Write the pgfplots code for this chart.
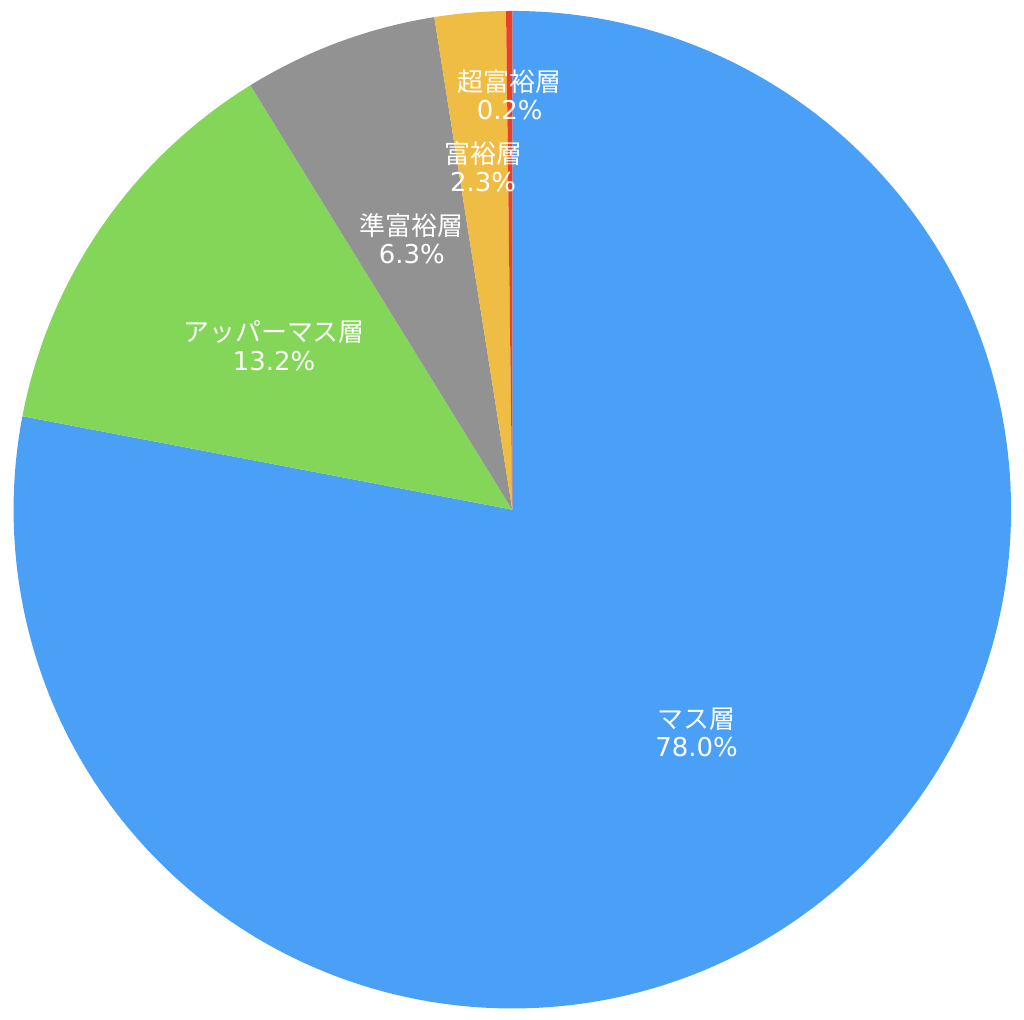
\documentclass[border=0pt]{standalone}
\usepackage{pgfplots}
\usepackage{pgfplotstable}
\usepackage{fontspec}
\pgfplotsset{compat=1.18}
\newfontfamily\cjk{Noto Sans CJK JP}
\newfontfamily\num{DejaVu Sans}

\definecolor{cblue}{HTML}{4A9FF6}
\definecolor{cgreen}{HTML}{83D657}
\definecolor{cgray}{HTML}{929292}
\definecolor{cyellow}{HTML}{EFBD43}
\definecolor{cred}{HTML}{E9402B}

% share (%) and label radius (pt) for each slice, clockwise from the top
\pgfplotstableread{
label          value  color    lr
マス層          78.0   cblue    290
アッパーマス層  13.2   cgreen   290
準富裕層        6.3    cgray    290
富裕層          2.3    cyellow  345
超富裕層        0.2    cred     416
}\piedata

\begin{document}
\begin{tikzpicture}
\begin{axis}[
    x=1pt, y=1pt,
    xmin=-511, xmax=513,
    ymin=-511, ymax=511,
    hide axis,
    clip=false,
]
\path (rel axis cs:0,0) rectangle (rel axis cs:1,1);
\pgfplotstablegetrowsof{\piedata}
\pgfmathtruncatemacro\nrows{\pgfplotsretval-1}
\def\cum{0}
\pgfplotsforeachungrouped \i in {0,...,\nrows}{
    \pgfplotstablegetelem{\i}{value}\of\piedata \let\val\pgfplotsretval
    \pgfplotstablegetelem{\i}{color}\of\piedata \let\col\pgfplotsretval
    \pgfmathsetmacro\a{90-3.6*\cum}
    \pgfmathsetmacro\b{90-3.6*(\cum+\val)}
    \pgfmathsetmacro\sx{500*cos(\a)}
    \pgfmathsetmacro\sy{500*sin(\a)}
    \pgfmathsetmacro\cum{\cum+\val}
    \edef\temp{\noexpand\fill[\col] (axis cs:0,0) -- (axis cs:\sx,\sy)
        arc[start angle=\a, end angle=\b, radius=500pt] -- cycle;}
    \temp
}
\def\cum{0}
\pgfplotsforeachungrouped \i in {0,...,\nrows}{
    \pgfplotstablegetelem{\i}{value}\of\piedata \let\val\pgfplotsretval
    \pgfplotstablegetelem{\i}{label}\of\piedata \let\lab\pgfplotsretval
    \pgfplotstablegetelem{\i}{lr}\of\piedata \let\lr\pgfplotsretval
    \pgfmathsetmacro\m{90-3.6*(\cum+\val/2)}
    \pgfmathsetmacro\lx{\lr*cos(\m)}
    \pgfmathsetmacro\ly{\lr*sin(\m)}
    \pgfmathsetmacro\cum{\cum+\val}
    \edef\temp{\noexpand\node[align=center, text=white, inner sep=0pt,
        font=\noexpand\fontsize{26}{28.5}\noexpand\selectfont]
        at (axis cs:\lx,\ly) {\noexpand\cjk\lab\noexpand\\\noexpand\num\val\noexpand\%};}
    \temp
}
\end{axis}
\end{tikzpicture}
\end{document}
